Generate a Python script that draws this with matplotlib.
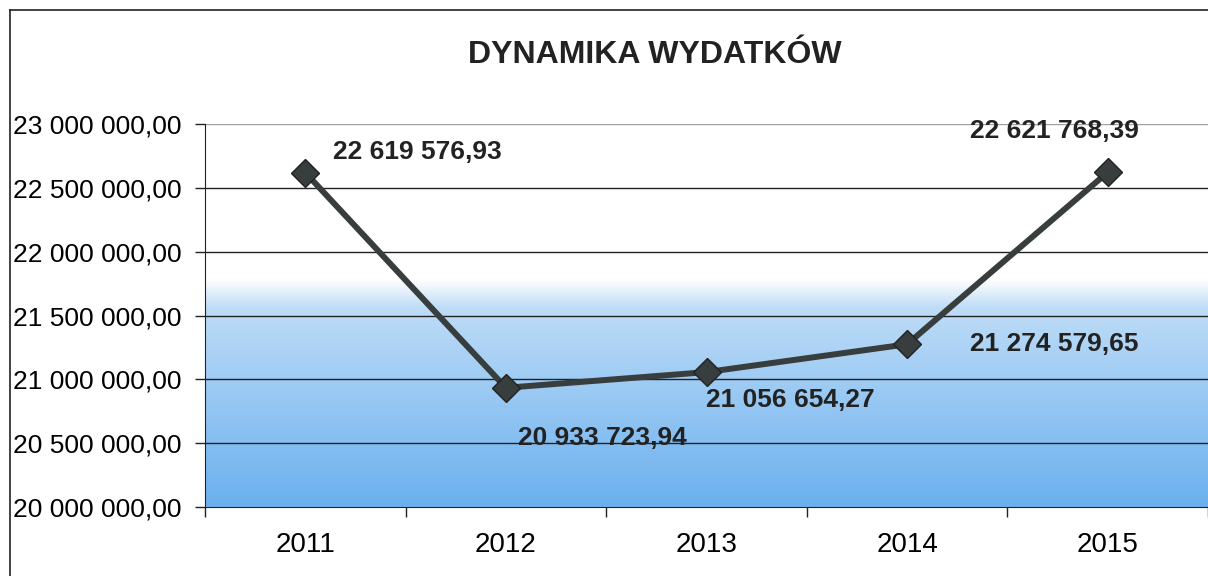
import numpy as np
import matplotlib.pyplot as plt
from matplotlib.lines import Line2D
from matplotlib.ticker import FuncFormatter, FixedLocator

plt.rcParams['font.family'] = ['Liberation Sans', 'DejaVu Sans']

# data
years = ["2011", "2012", "2013", "2014", "2015"]
spending = [22619576.93, 20933723.94, 21056654.27, 21274579.65, 22621768.39]
labels = ["22 619 576,93", "20 933 723,94", "21 056 654,27", "21 274 579,65", "22 621 768,39"]
# label offsets in pixels (dx, dy) and horizontal alignment
label_offsets = [(28, 21, 'left'), (12, -50, 'left'), (0, -28, 'left'), (63, 0, 'left'), (-53, 41, 'center')]

line_color = '#383d3d'

fig = plt.figure(figsize=(12.08, 5.76), dpi=100)
ax = fig.add_axes([205 / 1208, 1 - 507 / 576, 1 - 205 / 1208, (507 - 124) / 576])

ymin, ymax = 20_000_000, 23_000_000
x = np.arange(len(years))

# background gradient: white on top, blue at bottom
yy = np.linspace(ymax, ymin, 400)
white = np.array([1.0, 1.0, 1.0])
light = np.array([190, 220, 247]) / 255
deep = np.array([106, 176, 238]) / 255
rows = []
for v in yy:
    if v >= 21_780_000:
        c = white
    elif v >= 21_560_000:
        t = (21_780_000 - v) / 220_000
        c = white * (1 - t) + light * t
    else:
        t = (21_560_000 - v) / 1_560_000
        c = light * (1 - t) + deep * t
    rows.append(c)
grad = np.array(rows)[:, None, :]
ax.imshow(grad, extent=[-0.5, len(years) - 0.5, ymin, ymax], aspect='auto', zorder=0,
          interpolation='bilinear')

# grid lines
for v in np.arange(ymin + 500_000, ymax + 1, 500_000):
    ax.axhline(v, color='#a0a0a0' if v == ymax else '#222222', lw=1.0, zorder=1)

ax.plot(x, spending, color=line_color, lw=4.3, marker='D', markersize=14,
        markeredgecolor='#222222', markeredgewidth=1, zorder=3)

for xi, yi, lab, (dx, dy, ha) in zip(x, spending, labels, label_offsets):
    ax.annotate(lab, (xi, yi), xytext=(dx, dy), textcoords='offset pixels',
                ha=ha, va='center', fontsize=19, fontweight='bold', color='#222222', zorder=4)

ax.set_xlim(-0.5, len(years) - 0.5)
ax.set_ylim(ymin, ymax)
ax.set_yticks(np.arange(ymin, ymax + 1, 500_000))
ax.yaxis.set_major_formatter(FuncFormatter(lambda v, p: f"{v:,.2f}".replace(',', ' ').replace('.', ',')))
ax.set_xticks(x)
ax.set_xticklabels(years)
ax.xaxis.set_minor_locator(FixedLocator(np.arange(-0.5, len(years), 1.0)))
ax.tick_params(axis='x', which='major', length=0, pad=18, labelsize=20)
ax.tick_params(axis='x', which='minor', length=7, width=1, color='#222222')
ax.tick_params(axis='y', length=7, width=1, pad=10, labelsize=19, color='#222222')

for s in ['top', 'right']:
    ax.spines[s].set_visible(False)
ax.spines['left'].set_color('#222222')
ax.spines['bottom'].set_color('#222222')

fig.suptitle('DYNAMIKA WYDATKÓW', x=655 / 1208, y=1 - 55 / 576, va='center',
             fontsize=23, fontweight='bold', color='#222222')

# outer chart frame
fig.add_artist(Line2D([10 / 1208, 10 / 1208], [0, 1 - 10 / 576], color='#222222', lw=1.2,
                      transform=fig.transFigure))
fig.add_artist(Line2D([10 / 1208, 1], [1 - 10 / 576, 1 - 10 / 576], color='#222222', lw=1.2,
                      transform=fig.transFigure))

fig.savefig('out.png', dpi=100)
